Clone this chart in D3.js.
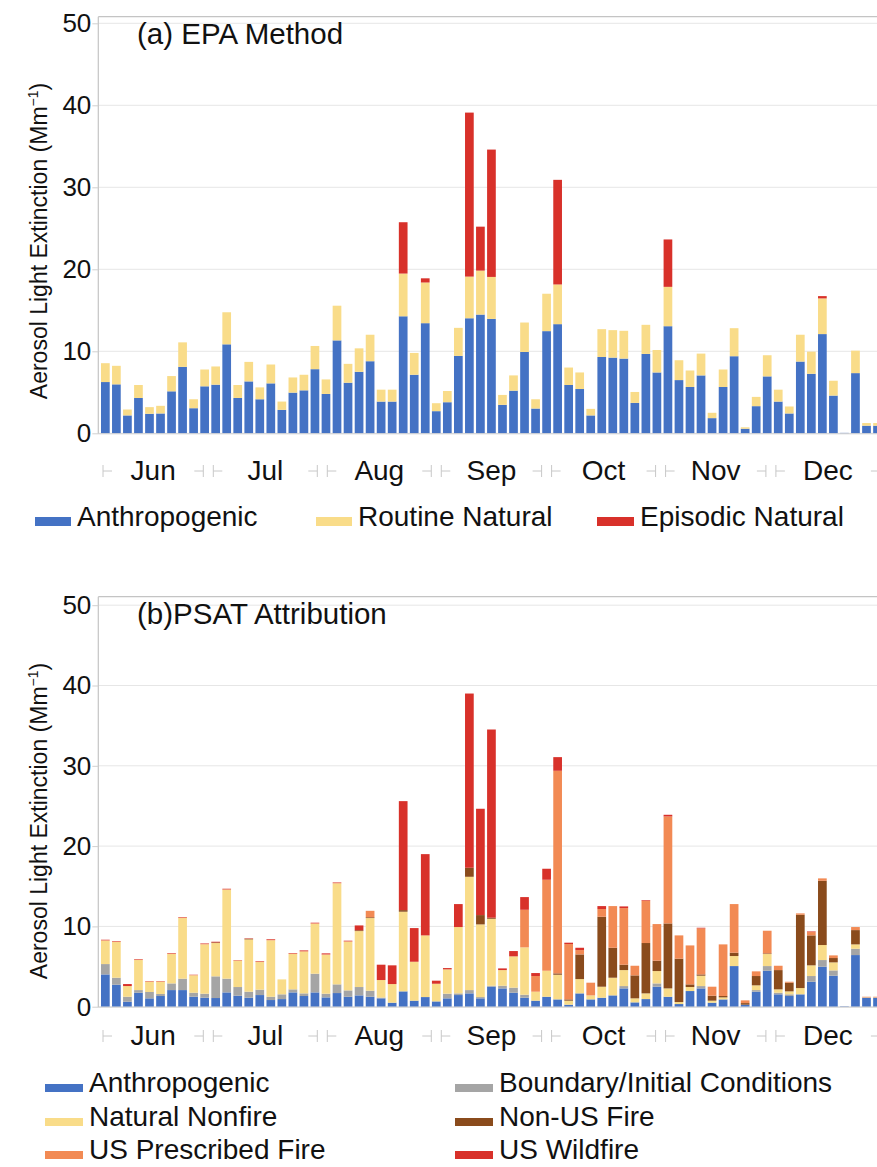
<!DOCTYPE html>
<html>
<head>
<meta charset="utf-8">
<script src="https://cdn.jsdelivr.net/npm/d3@7"></script>
<style>
  body { margin: 0; background: #fff; }
  svg { display: block; font-family: "Liberation Sans", Arial, sans-serif; }
</style>
</head>
<body>
<svg id="chart" width="877" height="1167"></svg>
<script>
// 1-in-3 day sampling schedule, June - December
const sampleDates = d3.timeDay.range(new Date(2017, 5, 3), new Date(2017, 11, 31), 3);
const monthLabels = ["Jun", "Jul", "Aug", "Sep", "Oct", "Nov", "Dec"];
const yTicks = [0, 10, 20, 30, 40, 50];

// (a) EPA method, Mm-1
const epaAnthro = [6.25,5.97,2.18,4.31,2.38,2.42,5.12,8.10,3.06,5.73,
  5.93,10.85,4.31,6.33,4.15,6.09,2.86,4.96,5.24,7.82,
  4.80,11.33,6.17,7.50,8.79,3.87,3.87,14.27,7.14,13.43,
  2.70,3.79,9.44,14.03,14.48,13.95,3.47,5.20,9.92,3.02,
  12.46,13.31,5.89,5.40,2.18,9.31,9.23,9.11,3.71,9.68,
  7.42,13.06,6.49,5.65,7.06,1.85,5.65,9.40,0.56,3.31,
  6.94,3.87,2.42,8.75,7.26,12.10,4.60,0.05,7.34,0.93,0.93];
const epaRoutine = [2.30,2.26,0.72,1.58,0.81,0.93,1.86,2.99,1.09,2.05,
  2.22,3.91,1.58,2.38,1.45,2.30,1.01,1.85,1.90,2.83,
  1.77,4.23,2.30,2.86,3.23,1.45,1.45,5.21,2.66,4.96,
  0.97,1.37,3.42,5.08,5.36,5.12,1.21,1.86,3.59,1.13,
  4.56,4.84,2.13,2.02,0.80,3.39,3.35,3.39,1.33,3.55,
  2.74,4.80,2.42,2.01,2.66,0.65,2.13,3.42,0.17,1.13,
  2.58,1.45,0.85,3.27,2.70,4.35,1.81,0,2.74,0.32,0.32];
const epaEpisodic = [0,0,0,0,0,0,0,0,0,0,
  0,0,0,0,0,0,0,0,0,0,
  0,0,0,0,0,0,0,6.26,0,0.51,
  0,0,0,20.0,5.36,15.53,0,0,0,0,
  0,12.76,0,0,0,0,0,0,0,0,
  0,5.78,0,0,0,0,0,0,0,0,
  0,0,0,0,0,0.28,0,0,0,0,0];

// (b) PSAT attribution, Mm-1
const psatAnthro = [4.02,2.74,0.62,1.74,1.04,1.33,2.07,2.07,1.24,1.12,
  1.08,1.78,1.37,1.12,1.45,0.83,0.95,1.78,1.33,1.78,
  1.16,1.70,1.24,1.41,1.24,1.04,0.50,1.91,0.75,1.20,
  0.66,1.04,1.45,1.66,1.04,2.49,2.28,1.74,1.12,0.75,
  1.24,0.91,0.25,1.66,0.91,1.12,1.41,2.28,0.54,0.95,
  2.49,1.24,0.33,1.95,2.28,0.50,0.91,5.06,0.25,1.87,
  4.48,1.54,1.33,1.54,3.11,4.98,3.86,0.05,6.43,1.12,1.12];
const psatBoundary = [1.29,0.87,0.62,0.33,0.79,0.25,0.83,1.42,0.50,0.50,
  2.70,1.71,1.08,0.75,0.67,0.41,0.59,0.38,0.33,2.33,
  0.46,1.08,0.79,1.04,0.75,0.10,0,0,0,0,
  0,0.58,0.21,0.41,0.16,0.12,0.33,0.63,0.37,0,
  0,0,0,0,0,0,0,0.29,0,0,
  0.41,0,0,0,0.29,0,0,0,0,0.20,
  0.58,0.20,0.21,0,0.71,0.83,0.66,0,0.79,0,0];
const psatNatural = [2.91,4.44,1.33,3.74,1.28,1.53,3.66,7.55,2.16,6.14,
  4.15,11.07,3.28,6.51,3.44,7.02,1.86,4.40,5.19,6.22,
  4.85,12.57,6.06,6.97,9.05,2.18,2.32,9.92,4.85,7.68,
  2.20,3.03,8.26,14.11,9.05,8.34,1.95,3.90,5.90,1.12,
  3.24,3.07,0.50,1.78,0.50,1.37,2.20,1.99,0.50,0.71,
  1.54,1.04,0.25,0.50,1.29,0.25,0.25,1.25,0,0.59,
  1.50,0.42,0.37,0.78,1.33,1.87,1.00,0,0.54,0.04,0.04];
const psatNonUS = [0,0,0,0,0,0,0,0,0,0,
  0.08,0,0,0.08,0,0,0,0,0,0,
  0,0,0,0.10,0.10,0,0,0.20,0,0,
  0,0,0,1.12,1.16,0.13,0,0,0,0,
  0,0.17,0.16,3.07,0,8.71,3.73,0.67,2.86,6.27,
  1.29,8.09,5.40,0.33,0.16,0.62,0.17,0.41,0.20,1.16,
  0.08,2.40,1.08,9.13,3.73,8.00,0.54,0,1.78,0,0];
const psatRx = [0.06,0.06,0,0.06,0.05,0.05,0.06,0.06,0.04,0.06,
  0,0.06,0.04,0,0.06,0.08,0,0.06,0.08,0.06,
  0.05,0.07,0.06,0,0.80,0,0,0,0,0,
  0,0,0,0,0,0,0,0,4.68,1.95,
  11.33,25.23,6.89,0.54,1.58,0.96,5.19,7.05,1.20,5.27,
  4.56,13.32,2.90,4.85,5.73,1.12,6.43,6.06,0.34,0.58,
  2.82,0.54,0.12,0.17,0.41,0.30,0.33,0,0.38,0.08,0.08];
const psatWild = [0.06,0.06,0.25,0.06,0.04,0.04,0.06,0.06,0.04,0.06,
  0.08,0.07,0.04,0.05,0.06,0.08,0,0.06,0.08,0.07,
  0.12,0.06,0.07,0.60,0,1.91,2.33,13.57,4.19,10.12,
  0.38,0.16,2.86,21.70,13.24,23.44,0.21,0.66,1.58,0.37,
  1.37,1.70,0.17,0.29,0,0.37,0,0.21,0,0.08,
  0,0.21,0,0,0.08,0,0,0,0,0,
  0,0,0,0,0.08,0,0,0,0,0,0];

const colors = {
    anthro: "#4472c4",
    boundary: "#a5a5a5",
    natural: "#f9dc89",
    nonus: "#8a4b1c",
    rx: "#f28a54",
    wild: "#d8312a"
};

const panels = [
    {
        title: "(a) EPA Method",
        series: [
            {key: "Anthropogenic", values: epaAnthro, color: colors.anthro},
            {key: "Routine Natural", values: epaRoutine, color: colors.natural},
            {key: "Episodic Natural", values: epaEpisodic, color: colors.wild}
        ],
        frameTop: 16.7, y0: 433.3, y50: 23.3, titleY: 44, monthY: 480, labelY: 241,
        legend: [
            {col: 35, row: 526, sw: 36, sh: 9, i: 0},
            {col: 316, row: 526, sw: 36, sh: 9, i: 1},
            {col: 597, row: 526, sw: 37, sh: 9, i: 2}
        ]
    },
    {
        title: "(b)PSAT Attribution",
        series: [
            {key: "Anthropogenic", values: psatAnthro, color: colors.anthro},
            {key: "Boundary/Initial Conditions", values: psatBoundary, color: colors.boundary},
            {key: "Natural Nonfire", values: psatNatural, color: colors.natural},
            {key: "Non-US Fire", values: psatNonUS, color: colors.nonus},
            {key: "US Prescribed Fire", values: psatRx, color: colors.rx},
            {key: "US Wildfire", values: psatWild, color: colors.wild}
        ],
        frameTop: 596.7, y0: 1006.7, y50: 605.2, titleY: 624, monthY: 1045, labelY: 821,
        legend: [
            {col: 45, row: 1092, sw: 38, sh: 8, i: 0},
            {col: 455, row: 1092, sw: 38, sh: 8, i: 1},
            {col: 45, row: 1126, sw: 38, sh: 8, i: 2},
            {col: 455, row: 1126, sw: 38, sh: 8, i: 3},
            {col: 45, row: 1159, sw: 38, sh: 8, i: 4},
            {col: 455, row: 1159, sw: 38, sh: 8, i: 5}
        ]
    }
];

const svg = d3.select("#chart");
const plotLeft = 98.3, plotRight = 877;
const barWidth = 8.7;

const x = d3.scaleTime()
    .domain([new Date(2017, 5, 1), new Date(2018, 0, 1)])
    .range([98, 98 + 214 * 3.677]);

const months = d3.timeMonth.range(new Date(2017, 5, 1), new Date(2018, 0, 1));

panels.forEach(p => {
    const g = svg.append("g");

    const y = d3.scaleLinear()
        .domain([0, 50])
        .range([p.y0, p.y50]);

    // gridlines
    g.append("g")
        .selectAll("line")
        .data(yTicks)
        .enter().append("line")
        .attr("x1", plotLeft).attr("x2", plotRight)
        .attr("y1", d => y(d)).attr("y2", d => y(d))
        .attr("stroke", "#e6e6e6")
        .attr("stroke-width", 1);

    // frame
    g.append("line")
        .attr("x1", plotLeft).attr("x2", plotRight)
        .attr("y1", p.frameTop).attr("y2", p.frameTop)
        .attr("stroke", "#c4c4c4").attr("stroke-width", 1.2);
    g.append("line")
        .attr("x1", plotLeft).attr("x2", plotLeft)
        .attr("y1", p.frameTop).attr("y2", p.y0 + 0.5)
        .attr("stroke", "#c4c4c4").attr("stroke-width", 1.2);

    // y axis
    const yAxis = d3.axisLeft(y).tickValues(yTicks).tickSize(6).tickPadding(1);
    const ya = g.append("g")
        .attr("transform", `translate(${plotLeft},0)`)
        .call(yAxis);
    ya.select(".domain").remove();
    ya.selectAll(".tick line").attr("stroke", "#d0d0d0");
    ya.selectAll(".tick text")
        .attr("font-family", "Liberation Sans, Arial, sans-serif")
        .attr("font-size", 26)
        .attr("fill", "#111");

    // stacked bars
    const keys = p.series.map(s => s.key);
    const rows = sampleDates.map((d, i) => {
        const r = {date: d};
        p.series.forEach(s => { r[s.key] = s.values[i]; });
        return r;
    });
    const stacked = d3.stack().keys(keys)(rows);

    g.append("g")
        .selectAll("g")
        .data(stacked)
        .enter().append("g")
        .attr("fill", (d, i) => p.series[i].color)
        .selectAll("rect")
        .data(d => d)
        .enter().append("rect")
        .attr("x", d => x(d.data.date) - barWidth / 2)
        .attr("width", barWidth)
        .attr("y", d => y(d[1]))
        .attr("height", d => Math.max(0, y(d[0]) - y(d[1])));

    // baseline
    g.append("line")
        .attr("x1", plotLeft).attr("x2", plotRight)
        .attr("y1", p.y0 + 0.5).attr("y2", p.y0 + 0.5)
        .attr("stroke", "#d0d0d0").attr("stroke-width", 1);

    // month axis
    const ma = g.append("g");
    months.forEach((m, i) => {
        const x0 = x(m), x1 = x(d3.timeMonth.offset(m, 1));
        const mid = (x0 + x1) / 2;
        const ly = p.monthY - 9;
        ma.append("text")
            .attr("x", mid).attr("y", p.monthY)
            .attr("text-anchor", "middle")
            .attr("font-size", 28)
            .attr("fill", "#111")
            .text(monthLabels[i]);
        const segs = [[x0 + 5, x0 + 14], [x1 - 14, x1 - 5]];
        segs.forEach(s => {
            ma.append("line")
                .attr("x1", s[0]).attr("x2", s[1])
                .attr("y1", ly).attr("y2", ly)
                .attr("stroke", "#c8c8c8");
        });
        [x0 + 5, x1 - 5].forEach(v => {
            ma.append("line")
                .attr("x1", v).attr("x2", v)
                .attr("y1", ly - 6).attr("y2", ly + 6)
                .attr("stroke", "#c8c8c8");
        });
    });

    // title
    g.append("text")
        .attr("x", 137).attr("y", p.titleY)
        .attr("font-size", 29.5)
        .attr("fill", "#111")
        .text(p.title);

    // y label
    const yl = g.append("text")
        .attr("transform", `translate(47,${p.labelY}) rotate(-90)`)
        .attr("text-anchor", "middle")
        .attr("font-size", 23)
        .attr("fill", "#111");
    yl.append("tspan").text("Aerosol Light Extinction (Mm");
    yl.append("tspan").attr("font-size", 14).attr("dy", -9).text("−1");
    yl.append("tspan").attr("dy", 9).text(")");

    // legend
    const lg = g.append("g");
    p.legend.forEach(l => {
        const s = p.series[l.i];
        lg.append("rect")
            .attr("x", l.col).attr("y", l.row - l.sh)
            .attr("width", l.sw).attr("height", l.sh)
            .attr("fill", s.color);
        lg.append("text")
            .attr("x", l.col + l.sw + 6).attr("y", l.row)
            .attr("font-size", 28)
            .attr("fill", "#111")
            .text(s.key);
    });
});
</script>
</body>
</html>
